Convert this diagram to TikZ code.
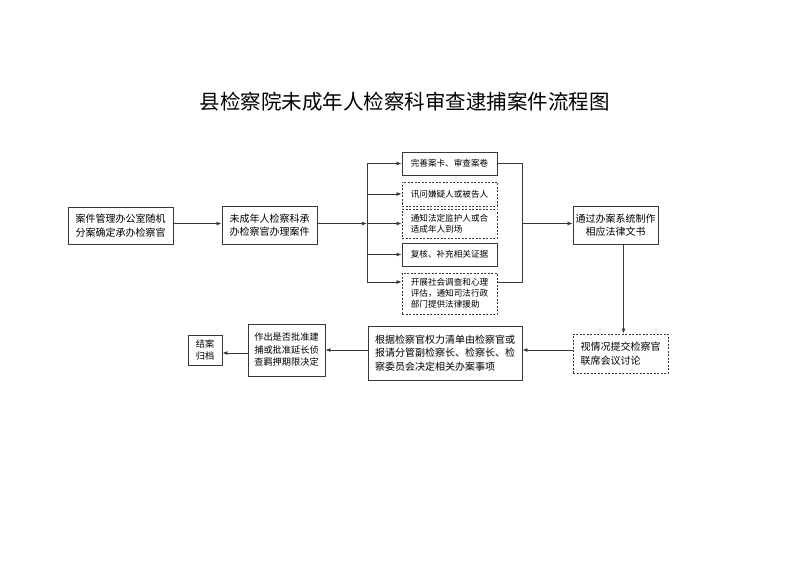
\documentclass[tikz,border=0pt]{standalone}
\usepackage{fontspec}
\setmainfont{Noto Sans CJK SC}
\usepackage{tikz}
\usetikzlibrary{arrows.meta}
\usetikzlibrary{positioning}
\definecolor{linegray}{RGB}{55,55,55}
\tikzset{
  flow chart/.style={
    box/.style={rectangle, draw=linegray, line width=0.9pt, align=left, inner sep=2pt,
        font={\fontsize{10}{13.5}\selectfont}},
    dashbox/.style={box, dash pattern=on 2pt off 1.5pt},
    smalltext/.style={font={\fontsize{8.6}{11}\selectfont}},
    midtext/.style={font={\fontsize{9.2}{12.5}\selectfont}},
    link/.style={draw=linegray, line width=0.8pt},
    arr/.style={link, -{Latex[length=5pt,width=4pt]}},
    headline/.style={font={\fontsize{20.5}{24}\selectfont}}
  }
}

\begin{document}
\begin{tikzpicture}[flow chart, x=1pt, y=-1pt]
    \useasboundingbox (0,0) rectangle (800,564);
    \node[headline] (head) at (404.5,102) {县检察院未成年人检察科审查逮捕案件流程图};

    % first row
    \node[box, minimum width=105pt, minimum height=37pt] (assign) at (120.5,225.5)
        {案件管理办公室随机\\分案确定承办检察官};
    \node[box, minimum width=95pt, minimum height=38pt] (handle) at (269.5,225)
        {未成年人检察科承\\办检察官办理案件};

    % branch boxes
    \node[box, smalltext, minimum width=95pt, minimum height=23pt] (card) at (449.5,163.5)
        {完善案卡、审查案卷};
    \node[dashbox, smalltext, minimum width=95pt, minimum height=24pt] (ask) at (449.5,194)
        {讯问嫌疑人或被告人};
    \node[dashbox, smalltext, minimum width=95pt, minimum height=29pt] (guard) at (449.5,223.5)
        {通知法定监护人或合\\适成年人到场};
    \node[box, smalltext, minimum width=95pt, minimum height=23pt] (check) at (449.5,254.5)
        {复核、补充相关证据};
    \node[dashbox, smalltext, minimum width=95pt, minimum height=41pt] (survey) at (449.5,293.5)
        {开展社会调查和心理\\评估，通知司法行政\\部门提供法律援助};

    \node[box, align=center, minimum width=85pt, minimum height=38pt] (doc) at (615.5,225)
        {通过办案系统制作\\相应法律文书};

    % second row
    \node[dashbox, minimum width=95pt, minimum height=39pt] (joint) at (620.5,353.5)
        {视情况提交检察官\\联席会议讨论};
    \node[box, minimum width=154pt, minimum height=54pt] (decide) at (445,353)
        {根据检察官权力清单由检察官或\\报请分管副检察长、检察长、检\\察委员会决定相关办案事项};
    \node[box, midtext, minimum width=77pt, minimum height=52pt] (approve) at (286.5,350)
        {作出是否批准建\\捕或批准延长侦\\查羁押期限决定};
    \node[box, midtext, minimum width=34pt, minimum height=30pt] (close) at (205,350)
        {结案\\归档};

    \coordinate (fork) at (367,223.5);
    \coordinate (forkE) at (367,282);
    \coordinate (merge) at (522,223.5);

    \draw[arr] (assign.east |- fork) -- (handle.west |- fork);
    \draw[arr] (handle.east |- fork) -- (fork);
    \draw[link] (fork |- card.west) -- (forkE);
    \foreach \b in {card,ask,guard,check}
        \draw[arr] (fork |- \b.west) -- (\b.west);
    \draw[arr] (forkE) -- (forkE -| survey.west);

    \draw[link] (card.east) -| (merge);
    \draw[link] (survey.east |- forkE) -| (merge);
    \draw[arr] (merge) -- (merge -| doc.west);

    \draw[arr] ([xshift=8pt]doc.south) -- ([xshift=8pt]doc.south |- joint.north);
    \draw[arr] (joint.west |- 0,350) -- (decide.east |- 0,350);
    \draw[arr] (decide.west |- 0,350) -- (approve.east |- 0,350);
    \draw[arr] (approve.west |- 0,353) -- (close.east |- 0,353);
\end{tikzpicture}
\end{document}
